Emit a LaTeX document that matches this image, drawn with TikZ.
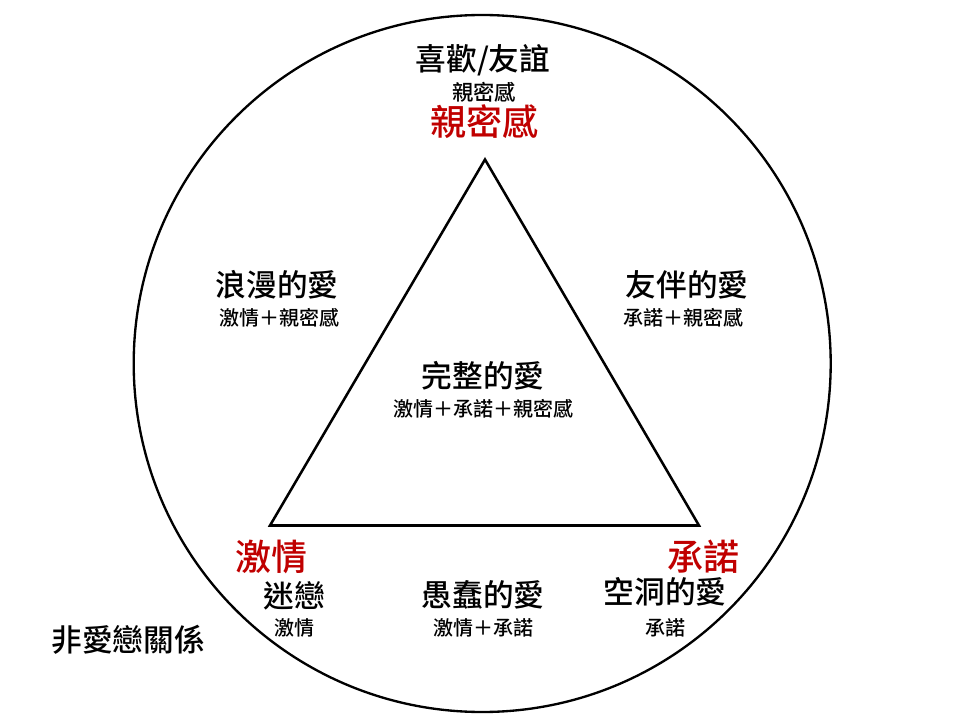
\documentclass[tikz,border=0pt]{standalone}
\usepackage{fontspec}
\setmainfont{Noto Sans CJK TC}[UprightFont={* Medium}]
\definecolor{lovered}{RGB}{192,0,0}
\tikzset{
	title/.style={inner sep=0pt, font=\fontsize{23pt}{25pt}\selectfont},
	parts/.style={inner sep=0pt, font=\fontsize{15pt}{17pt}\selectfont},
	corner/.style={inner sep=0pt, text=lovered, font=\fontsize{27pt}{30pt}\selectfont}
}
\begin{document}
\begin{tikzpicture}[x=0.75pt, y=-0.75pt]
	\useasboundingbox (0,0) rectangle (960,720);
	\draw [line width=1.75pt] (482.2,363.5) circle (348.5);
	\coordinate (top) at (485,159.5);
	\coordinate (left) at (270,525.5);
	\coordinate (right) at (699,525.5);
	\draw [line width=1.9pt] (top) -- (right) -- (left) -- cycle;
	\node[title] (liking) at (483,60) {喜歡/友誼};
	\node[parts, font=\fontsize{16pt}{18pt}\selectfont] (likingparts) at (484,92) {親密感};
	\node[corner] (intimacy) at (484,122) {親密感};
	\node[title] (romantic) at (277,285) {浪漫的愛};
	\node[parts] (romanticparts) at (279,318) {激情＋親密感};
	\node[title] (companion) at (687,285) {友伴的愛};
	\node[parts] (companionparts) at (683,318) {承諾＋親密感};
	\node[title] (complete) at (483,376) {完整的愛};
	\node[parts] (completeparts) at (483,409) {激情＋承諾＋親密感};
	\node[corner] (passion) at (271,557) {激情};
	\node[title] (infatuation) at (294,596) {迷戀};
	\node[parts] (infatuationparts) at (294,628) {激情};
	\node[title] (fatuous) at (483,595) {愚蠢的愛};
	\node[parts] (fatuousparts) at (483,628) {激情＋承諾};
	\node[corner] (commitment) at (703,557) {承諾};
	\node[title] (empty) at (665,592) {空洞的愛};
	\node[parts] (emptyparts) at (665,628) {承諾};
	\node[title] (nonlove) at (128,640) {非愛戀關係};
\end{tikzpicture}
\end{document}
